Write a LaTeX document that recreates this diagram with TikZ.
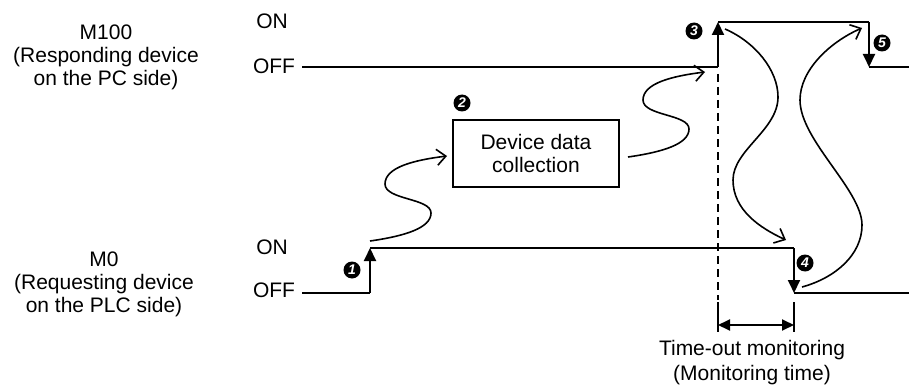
\documentclass[tikz,border=0pt]{standalone}
\usepackage{fontspec}
\setmainfont{Liberation Sans}
\usetikzlibrary{arrows.meta}

\tikzset{
  lbl/.style={font=\fontsize{10.5}{11.5}\selectfont, inner sep=0pt},
  sig/.style={line width=0.95pt},
  edgeup/.style={sig, -{Triangle[length=6.5pt,width=6pt]}},
  wave/.style={line width=0.8pt, -{Straight Barb[length=4.5pt,width=8pt]}},
  stepmark/.style={circle, fill=black, text=white, minimum size=8.5pt, inner sep=0pt,
    font=\fontsize{7}{7}\selectfont\bfseries\itshape},
}

\begin{document}
\begin{tikzpicture}[x=0.5pt,y=-0.5pt]
\useasboundingbox (0,0) rectangle (909,390);
 % labels on the left
 \node[lbl, align=center] (m100) at (106,57) {M100\\(Responding device\\on the PC side)};
 \node[lbl, align=center] (m0) at (104,284) {M0\\(Requesting device\\on the PLC side)};
 \node[lbl] (onU) at (272,21) {ON};
 \node[lbl] (offU) at (274,66) {OFF};
 \node[lbl] (onL) at (272,247) {ON};
 \node[lbl] (offL) at (274,290) {OFF};
 % signal corners
 \coordinate (u0) at (302,67);
 \coordinate (u1) at (718,67);
 \coordinate (u2) at (718,22);
 \coordinate (u3) at (869,22);
 \coordinate (u4) at (869,67);
 \coordinate (u5) at (909,67);
 \coordinate (l0) at (302,293);
 \coordinate (l1) at (370,293);
 \coordinate (l2) at (370,248);
 \coordinate (l3) at (794,248);
 \coordinate (l4) at (794,293);
 \coordinate (l5) at (909,293);
 % M100
 \draw[sig] (u0) -- (u1);
 \draw[edgeup] (u1) -- (u2);
 \draw[sig] (u2) -- (u3);
 \draw[edgeup] (u3) -- (u4);
 \draw[sig] (u4) -- (u5);
 % M0
 \draw[sig] (l0) -- (l1);
 \draw[edgeup] (l1) -- (l2);
 \draw[sig] (l2) -- (l3);
 \draw[edgeup] (l3) -- (l4);
 \draw[sig] (l4) -- (l5);
 % box
 \node[draw, line width=0.65pt, minimum width=83pt, minimum height=33.5pt, lbl, align=center]
   (collect) at (536,153.5) {Device data\\collection};
 % markers
 \node[stepmark] (m1) at (352,270) {1};
 \node[stepmark] (m2) at (462,103) {2};
 \node[stepmark] (m3) at (694,31) {3};
 \node[stepmark] (m4) at (805,263) {4};
 \node[stepmark] (m5) at (882,43) {5};
 % time-out monitoring
 \coordinate (d0) at (718,74);
 \coordinate (d1) at (718,300);
 \draw[line width=0.75pt, dash pattern=on 4pt off 2.5pt] (d0) -- (d1);
 \coordinate (t0) at (718,302);
 \coordinate (t1) at (718,332);
 \coordinate (t2) at (794,302);
 \coordinate (t3) at (794,332);
 \draw[sig] (t0) -- (t1);
 \draw[sig] (t2) -- (t3);
 \coordinate (a0) at (718,325);
 \coordinate (a1) at (794,325);
 \draw[sig, {Triangle[length=6pt,width=5.5pt]}-{Triangle[length=6pt,width=5.5pt]}] (a0) -- (a1);
 \node[lbl, align=center, font=\fontsize{10.5}{12.5}\selectfont] (tmo) at (752,363)
   {Time-out monitoring\\(Monitoring time)};
 % wavy arrows
 \coordinate (w1s) at (370,241);
 \coordinate (w1e) at (447,156);
 \draw[wave] (w1s) .. controls (405,236) and (431,228) .. (431,213)
   .. controls (431,198) and (385,200) .. (385,184)
   .. controls (385,167) and (415,160) .. (w1e);
 \coordinate (w2s) at (628,157);
 \coordinate (w2e) at (705,72);
 \draw[wave] (w2s) .. controls (663,152) and (689,144) .. (689,129)
   .. controls (689,114) and (643,116) .. (643,100)
   .. controls (643,83) and (673,76) .. (w2e);
 \coordinate (w3s) at (725,29);
 \coordinate (w3e) at (786,240);
 \draw[wave] (w3s) .. controls (755,42) and (778,70) .. (778,97)
   .. controls (778,130) and (733,150) .. (733,180)
   .. controls (733,210) and (760,228) .. (w3e);
 \coordinate (w4s) at (802,287);
 \coordinate (w4e) at (862,28);
 \draw[wave] (w4s) .. controls (835,278) and (862,255) .. (862,225)
   .. controls (862,190) and (800,140) .. (800,100)
   .. controls (800,70) and (830,42) .. (w4e);
\end{tikzpicture}
\end{document}
